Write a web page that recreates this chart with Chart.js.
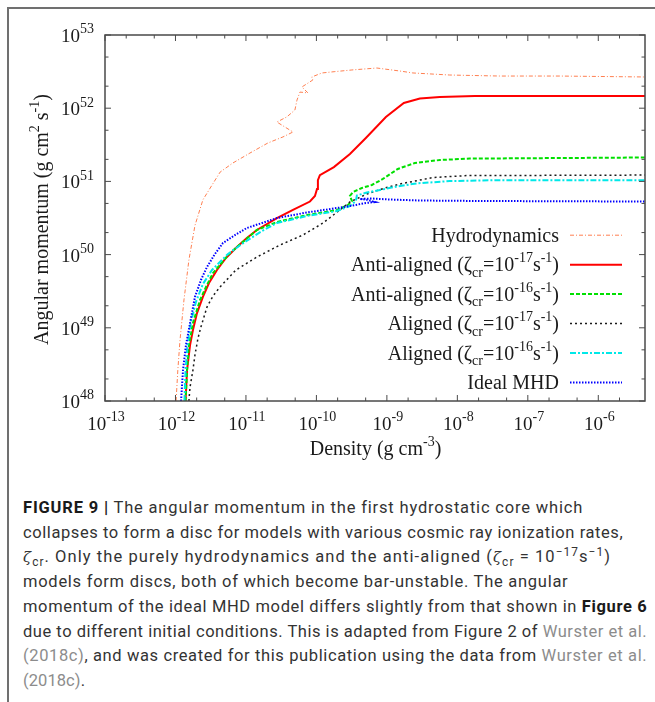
<!DOCTYPE html>
<html>
<head>
<meta charset="utf-8">
<script src="https://cdn.jsdelivr.net/npm/chart.js@4.4.0/dist/chart.umd.min.js"></script>
<style>
html, body { margin: 0; padding: 0; background: #fff; }
body { width: 655px; height: 702px; position: relative; overflow: hidden; }
#frame { position: absolute; left: 7px; top: 7px; width: 700px; height: 720px;
  border-left: 2px solid #707070; border-top: 2px solid #707070; }
#plot { position: absolute; left: 0; top: 0; }
#caption { position: absolute; left: 23px; top: 496px; font-family: Roboto, "Liberation Sans", sans-serif;
  font-size: 16.5px; line-height: 24.7px; color: #333; white-space: nowrap; }
#caption .ln { display: inline-block; }
#caption b { font-weight: 700; color: #1a1a1a; }
#caption .ref { color: #8c8c8c; }
#caption .z { font-family: "DejaVu Serif", serif; font-style: italic; font-size: 0.9em; }
#caption sub, #caption sup { font-size: 0.72em; line-height: 0; position: relative; vertical-align: baseline; }
#caption sub { top: 0.3em; }
#caption sup { top: -0.55em; }
</style>
</head>
<body>
<div id="frame"></div>
<canvas id="plot" width="655" height="480"></canvas>
<div id="caption">
  <span class="ln"><b>FIGURE 9 |</b> The angular momentum in the first hydrostatic core which</span><br>
  <span class="ln">collapses to form a disc for models with various cosmic ray ionization rates,</span><br>
  <span class="ln"><span class="z">ζ</span><sub>cr</sub>. Only the purely hydrodynamics and the anti-aligned (<span class="z">ζ</span><sub>cr</sub> = 10<sup>−17</sup>s<sup>−1</sup>)</span><br>
  <span class="ln">models form discs, both of which become bar-unstable. The angular</span><br>
  <span class="ln">momentum of the ideal MHD model differs slightly from that shown in <b>Figure 6</b></span><br>
  <span class="ln">due to different initial conditions. This is adapted from Figure 2 of <span class="ref">Wurster et al.</span></span><br>
  <span class="ln"><span class="ref">(2018c)</span>, and was created for this publication using the data from <span class="ref">Wurster et al.</span></span><br>
  <span class="ln"><span class="ref">(2018c)</span>.</span>
</div>
<script>
// density (g cm^-3) and angular momentum (g cm^2 s^-1)
const hydroRho = [1.02e-12, 1.08e-12, 1.16e-12, 1.32e-12, 1.55e-12, 1.89e-12, 2.45e-12, 3.3e-12, 4.3e-12, 6.5e-12,
  1.14e-11, 2.05e-11, 3.35e-11, 4.65e-11, 2.75e-11, 3.8e-11, 4.95e-11, 5.3e-11, 5.84e-11, 7.57e-11,
  6.22e-11, 8.9e-11, 8.6e-11, 1.2e-10, 1.83e-10, 3.19e-10, 7.2e-10, 1.53e-9, 2.34e-9, 7.8e-9,
  4.0e-8, 2.84e-7, 4.6e-6];
const hydroL = [1e48, 2.65e48, 6.8e48, 2.4e49, 8.4e49, 2.5e50, 5.6e50, 8.9e50, 1.34e51, 1.78e51,
  2.44e51, 3.35e51, 4.05e51, 4.73e51, 6.47e51, 7.6e51, 9.44e51, 1.29e52, 1.66e52, 1.62e52,
  1.95e52, 2.43e52, 2.67e52, 3.03e52, 3.16e52, 3.33e52, 3.54e52, 3.22e52, 3.03e52, 2.84e52,
  2.75e52, 2.75e52, 2.67e52];

const anti17Rho = [1.39e-12, 1.46e-12, 1.61e-12, 1.77e-12, 2.02e-12, 2.45e-12, 2.99e-12, 3.88e-12, 5.2e-12, 7.45e-12,
  1.03e-11, 1.43e-11, 2.75e-11, 4.65e-11, 8.09e-11, 9.53e-11, 1.02e-10, 1.05e-10, 1.12e-10, 1.77e-10,
  2.99e-10, 5.03e-10, 9.68e-10, 1.74e-9, 2.94e-9, 5.65e-9, 1.77e-8, 4.6e-6];
const anti17L = [1e48, 2.65e48, 5.82e48, 9.33e48, 1.59e49, 2.64e49, 4.09e49, 6.16e49, 9.0e49, 1.27e50,
  1.69e50, 2.17e50, 3.16e50, 4.07e50, 5.31e50, 6.32e50, 7.88e50, 1.04e51, 1.22e51, 1.57e51,
  2.37e51, 3.92e51, 7.59e51, 1.18e52, 1.36e52, 1.42e52, 1.47e52, 1.47e52];

const anti16Rho = [1.39e-12, 1.46e-12, 1.55e-12, 1.77e-12, 2.23e-12, 2.71e-12, 3.41e-12, 5.93e-12, 1.43e-11, 2.75e-11,
  7.33e-11, 1.95e-10, 2.8e-10, 3.19e-10, 2.99e-10, 3.3e-10, 4.42e-10, 6.12e-10, 8.77e-10, 1.43e-9,
  2.49e-9, 5.65e-9, 1.5e-8, 4.6e-6];
const anti16L = [1e48, 2.65e48, 5.82e48, 1.16e49, 2.4e49, 3.61e49, 5.61e49, 1.05e50, 2.17e50, 2.79e50,
  3.47e50, 4.07e50, 4.76e50, 5.4e50, 6.32e50, 7.16e50, 8.13e50, 8.93e50, 1.08e51, 1.48e51,
  1.78e51, 1.96e51, 2.05e51, 2.12e51];

const al17Rho = [1.55e-12, 1.61e-12, 1.77e-12, 1.89e-12, 2.09e-12, 2.3e-12, 2.8e-12, 3.41e-12, 4.28e-12, 7.21e-12,
  1.43e-11, 3.03e-11, 6.44e-11, 1.24e-10, 2.15e-10, 2.99e-10, 5.2e-10, 9.37e-10, 1.53e-9, 4.49e-9,
  1.36e-8, 4.6e-6];
const al17L = [1e48, 1.55e48, 2.65e48, 4.25e48, 7.26e48, 1.03e49, 1.92e49, 2.72e49, 3.61e49, 6.16e49,
  9.27e49, 1.35e50, 1.85e50, 2.7e50, 4.07e50, 5.23e50, 6.73e50, 8.13e50, 9.21e50, 1.13e51,
  1.2e51, 1.22e51];

const al16Rho = [1.34e-12, 1.39e-12, 1.48e-12, 1.66e-12, 1.95e-12, 2.45e-12, 3.3e-12, 5.56e-12, 9.68e-12, 1.69e-11,
  2.75e-11, 7.33e-11, 1.95e-10, 2.99e-10, 3.63e-10, 3.75e-10, 5.2e-10, 7.96e-10, 1.39e-9, 2.67e-9,
  7.83e-9, 4.01e-8, 4.6e-6];
const al16L = [1e48, 2.65e48, 5.82e48, 1.2e49, 2.25e49, 3.96e49, 6.16e49, 1.02e50, 1.49e50, 2.1e50,
  2.7e50, 3.37e50, 3.94e50, 4.61e50, 5.4e50, 6.42e50, 7.05e50, 7.63e50, 8.52e50, 9.41e50,
  1.01e51, 1.04e51, 1.04e51];

const idealRho = [1.2e-12, 1.28e-12, 1.41e-12, 1.61e-12, 1.89e-12, 2.3e-12, 2.8e-12, 3.63e-12, 4.72e-12, 6.98e-12,
  1.03e-11, 1.69e-11, 2.75e-11, 7.33e-11, 1.95e-10, 2.99e-10, 5.03e-10, 6.76e-10, 5.03e-10, 4.14e-10,
  6.12e-10, 1.1e-9, 2.94e-9, 2.08e-8, 4.6e-6];
const idealL = [1e48, 2.65e48, 5.82e48, 1.16e49, 2.64e49, 4.5e49, 6.77e49, 1.02e50, 1.44e50, 1.85e50,
  2.31e50, 2.7e50, 3.16e50, 3.76e50, 4.33e50, 4.61e50, 5.07e50, 5.23e50, 5.66e50, 5.75e50,
  5.84e50, 5.66e50, 5.48e50, 5.4e50, 5.31e50];

// axis range and tick labels (powers of ten)
const xMin = 1e-13, xMax = 4.6e-6;
const yMin = 1e48, yMax = 1e53;
const xTickExps = ['-13', '-12', '-11', '-10', '-9', '-8', '-7', '-6'];
const yTickExps = ['48', '49', '50', '51', '52', '53'];
const minorMults = [2, 5];

// legend entries: [text, 0 normal | 1 superscript | 2 subscript]
const seriesNames = [
  [['Hydrodynamics', 0]],
  [['Anti-aligned (ζ', 0], ['cr', 2], ['=10', 0], ['-17', 1], ['s', 0], ['-1', 1], [')', 0]],
  [['Anti-aligned (ζ', 0], ['cr', 2], ['=10', 0], ['-16', 1], ['s', 0], ['-1', 1], [')', 0]],
  [['Aligned (ζ', 0], ['cr', 2], ['=10', 0], ['-17', 1], ['s', 0], ['-1', 1], [')', 0]],
  [['Aligned (ζ', 0], ['cr', 2], ['=10', 0], ['-16', 1], ['s', 0], ['-1', 1], [')', 0]],
  [['Ideal MHD', 0]]
];
const seriesRho = [hydroRho, anti17Rho, anti16Rho, al17Rho, al16Rho, idealRho];
const seriesL = [hydroL, anti17L, anti16L, al17L, al16L, idealL];
const seriesColors = ['#ff7f50', '#ff0000', '#00e000', '#1a1a1a', '#00e8e8', '#0000ff'];
const seriesWidths = [1, 2, 2, 1.5, 2, 2];
const seriesDash = [[4, 2, 1, 2], [], [4, 2], [2, 3], [6, 2, 2, 2], [1.5, 1.5]];

const SERIF = '"Liberation Serif", "Times New Roman", serif';

function drawRich(ctx, segs, x, y, align, size) {
  const small = Math.round(size * 0.72);
  const sizes = [size, small, small];
  const shift = [0, -size * 0.45, size * 0.28];
  let w = 0;
  for (const [t, m] of segs) {
    ctx.font = sizes[m] + 'px ' + SERIF;
    w += ctx.measureText(t).width;
  }
  let cx = align === 'right' ? x - w : align === 'center' ? x - w / 2 : x;
  ctx.textAlign = 'left';
  ctx.textBaseline = 'alphabetic';
  for (const [t, m] of segs) {
    ctx.font = sizes[m] + 'px ' + SERIF;
    ctx.fillText(t, cx, y + shift[m]);
    cx += ctx.measureText(t).width;
  }
}

const gnuplotLook = {
  id: 'gnuplotLook',
  afterDatasetsDraw(chart) {
    const { ctx, chartArea: a, scales: { x, y } } = chart;
    ctx.save();
    ctx.strokeStyle = '#4a4a4a';
    ctx.lineWidth = 1.5;
    ctx.setLineDash([]);
    ctx.strokeRect(a.left, a.top, a.right - a.left, a.bottom - a.top);

    // inward ticks on all four sides
    ctx.lineWidth = 1;
    ctx.beginPath();
    xTickExps.forEach(e => {
      [1, ...minorMults].forEach(m => {
        const v = m * Math.pow(10, +e);
        if (v > xMax) return;
        const px = x.getPixelForValue(v), len = m === 1 ? 6 : 3.5;
        ctx.moveTo(px, a.bottom); ctx.lineTo(px, a.bottom - len);
        ctx.moveTo(px, a.top); ctx.lineTo(px, a.top + len);
      });
    });
    yTickExps.forEach(e => {
      [1, ...minorMults].forEach(m => {
        const v = m * Math.pow(10, +e);
        if (v > yMax) return;
        const py = y.getPixelForValue(v), len = m === 1 ? 6 : 3.5;
        ctx.moveTo(a.left, py); ctx.lineTo(a.left + len, py);
        ctx.moveTo(a.right, py); ctx.lineTo(a.right - len, py);
      });
    });
    ctx.stroke();

    // tick labels
    ctx.fillStyle = '#1a1a1a';
    xTickExps.forEach(e => {
      const px = x.getPixelForValue(Math.pow(10, +e));
      drawRich(ctx, [['10', 0], [e, 1]], px + 1, a.bottom + 28.5, 'center', 19);
    });
    yTickExps.forEach(e => {
      const py = y.getPixelForValue(Math.pow(10, +e));
      drawRich(ctx, [['10', 0], [e, 1]], a.left - 11, py + 7, 'right', 19);
    });

    // axis titles
    drawRich(ctx, [['Density (g cm', 0], ['-3', 1], [')', 0]], 375.5, a.bottom + 54, 'center', 20);
    ctx.save();
    ctx.translate(47.5, (a.top + a.bottom) / 2 + 1.5);
    ctx.rotate(-Math.PI / 2);
    drawRich(ctx, [['Angular momentum (g cm', 0], ['2', 1], [' s', 0], ['-1', 1], [')', 0]], 0, 0, 'center', 20);
    ctx.restore();

    // legend
    seriesNames.forEach((segs, i) => {
      const base = 241.7 + i * 29.45;
      ctx.fillStyle = '#1a1a1a';
      drawRich(ctx, segs, 559, base, 'right', 20);
      ctx.beginPath();
      ctx.strokeStyle = seriesColors[i];
      ctx.lineWidth = seriesWidths[i];
      ctx.setLineDash(seriesDash[i]);
      ctx.moveTo(570, base - 6.5);
      ctx.lineTo(622, base - 6.5);
      ctx.stroke();
    });
    ctx.restore();
  }
};

const datasets = seriesRho.map((rho, i) => ({
  label: seriesNames[i].map(s => s[0]).join(''),
  data: rho.map((r, k) => ({ x: r, y: seriesL[i][k] })),
  showLine: true,
  borderColor: seriesColors[i],
  borderWidth: seriesWidths[i],
  borderDash: seriesDash[i],
  pointRadius: 0,
  tension: 0,
  order: seriesRho.length - i
}));

new Chart(document.getElementById('plot').getContext('2d'), {
  type: 'scatter',
  data: { datasets },
  options: {
    responsive: false,
    animation: false,
    layout: { padding: { left: 105, top: 35, right: 10, bottom: 79 } },
    plugins: { legend: { display: false }, tooltip: { enabled: false } },
    scales: {
      x: { type: 'logarithmic', min: xMin, max: xMax, display: false },
      y: { type: 'logarithmic', min: yMin, max: yMax, display: false }
    }
  },
  plugins: [gnuplotLook]
});

// stretch each caption line so it ends where it does in the figure
const lineEnds = [581.7, 622.7, 610, 567.7, 646.7, 646.7, 646.7, 85];
const lines = document.querySelectorAll('#caption .ln');
lines.forEach((ln, i) => {
  const w = ln.getBoundingClientRect().width;
  const n = ln.textContent.length;
  const ls = (lineEnds[i] - 23 - w) / Math.max(1, n - 1);
  ln.style.letterSpacing = ls.toFixed(3) + 'px';
});
</script>
</body>
</html>
